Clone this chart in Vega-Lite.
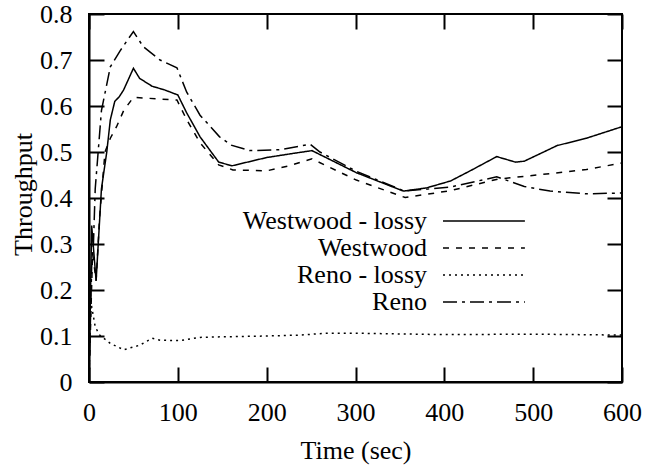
{
  "$schema": "https://vega.github.io/schema/vega-lite/v6.json",
  "width": 533,
  "height": 368,
  "autosize": "none",
  "padding": {"left": 89, "top": 14, "right": 23, "bottom": 85},
  "config": {
    "view": {"stroke": "black", "strokeWidth": 2},
    "axis": {
      "domain": true,
      "domainColor": "black",
      "domainWidth": 2,
      "ticks": false,
      "grid": true,
      "gridColor": "black",
      "gridWidth": 2,
      "labelFont": "Liberation Serif",
      "labelFontSize": 26,
      "labelColor": "black",
      "labelPadding": 17,
      "labelFlush": false,
      "titleFont": "Liberation Serif",
      "titleFontSize": 26,
      "titleFontWeight": "normal",
      "titleColor": "black"
    }
  },
  "data": {
    "values": [
      {"s": "Westwood - lossy", "t": 0, "v": 0},
      {"s": "Westwood - lossy", "t": 3, "v": 0.34},
      {"s": "Westwood - lossy", "t": 8, "v": 0.22},
      {"s": "Westwood - lossy", "t": 14, "v": 0.42},
      {"s": "Westwood - lossy", "t": 20, "v": 0.5},
      {"s": "Westwood - lossy", "t": 24, "v": 0.57},
      {"s": "Westwood - lossy", "t": 29, "v": 0.61},
      {"s": "Westwood - lossy", "t": 34, "v": 0.62},
      {"s": "Westwood - lossy", "t": 39, "v": 0.635},
      {"s": "Westwood - lossy", "t": 50, "v": 0.682},
      {"s": "Westwood - lossy", "t": 57, "v": 0.66},
      {"s": "Westwood - lossy", "t": 71, "v": 0.643},
      {"s": "Westwood - lossy", "t": 85, "v": 0.635},
      {"s": "Westwood - lossy", "t": 100, "v": 0.624},
      {"s": "Westwood - lossy", "t": 110, "v": 0.585},
      {"s": "Westwood - lossy", "t": 125, "v": 0.533},
      {"s": "Westwood - lossy", "t": 146, "v": 0.478},
      {"s": "Westwood - lossy", "t": 161, "v": 0.47},
      {"s": "Westwood - lossy", "t": 200, "v": 0.488},
      {"s": "Westwood - lossy", "t": 230, "v": 0.497},
      {"s": "Westwood - lossy", "t": 251, "v": 0.503},
      {"s": "Westwood - lossy", "t": 301, "v": 0.455},
      {"s": "Westwood - lossy", "t": 354, "v": 0.415},
      {"s": "Westwood - lossy", "t": 380, "v": 0.422},
      {"s": "Westwood - lossy", "t": 407, "v": 0.437},
      {"s": "Westwood - lossy", "t": 430, "v": 0.46},
      {"s": "Westwood - lossy", "t": 459, "v": 0.49},
      {"s": "Westwood - lossy", "t": 480, "v": 0.478},
      {"s": "Westwood - lossy", "t": 490, "v": 0.48},
      {"s": "Westwood - lossy", "t": 527, "v": 0.514},
      {"s": "Westwood - lossy", "t": 560, "v": 0.53},
      {"s": "Westwood - lossy", "t": 600, "v": 0.555},

      {"s": "Westwood", "t": 0, "v": 0},
      {"s": "Westwood", "t": 4, "v": 0.28},
      {"s": "Westwood", "t": 8, "v": 0.22},
      {"s": "Westwood", "t": 12, "v": 0.36},
      {"s": "Westwood", "t": 18, "v": 0.5},
      {"s": "Westwood", "t": 24, "v": 0.53},
      {"s": "Westwood", "t": 31, "v": 0.555},
      {"s": "Westwood", "t": 39, "v": 0.59},
      {"s": "Westwood", "t": 50, "v": 0.619},
      {"s": "Westwood", "t": 80, "v": 0.615},
      {"s": "Westwood", "t": 99, "v": 0.613},
      {"s": "Westwood", "t": 110, "v": 0.57},
      {"s": "Westwood", "t": 125, "v": 0.52},
      {"s": "Westwood", "t": 146, "v": 0.472},
      {"s": "Westwood", "t": 162, "v": 0.461},
      {"s": "Westwood", "t": 200, "v": 0.459},
      {"s": "Westwood", "t": 225, "v": 0.47},
      {"s": "Westwood", "t": 251, "v": 0.485},
      {"s": "Westwood", "t": 301, "v": 0.439},
      {"s": "Westwood", "t": 356, "v": 0.401},
      {"s": "Westwood", "t": 407, "v": 0.416},
      {"s": "Westwood", "t": 460, "v": 0.441},
      {"s": "Westwood", "t": 519, "v": 0.453},
      {"s": "Westwood", "t": 560, "v": 0.462},
      {"s": "Westwood", "t": 600, "v": 0.476},

      {"s": "Reno - lossy", "t": 0, "v": 0},
      {"s": "Reno - lossy", "t": 1, "v": 0.2},
      {"s": "Reno - lossy", "t": 3, "v": 0.164},
      {"s": "Reno - lossy", "t": 7, "v": 0.12},
      {"s": "Reno - lossy", "t": 12, "v": 0.102},
      {"s": "Reno - lossy", "t": 24, "v": 0.084},
      {"s": "Reno - lossy", "t": 39, "v": 0.07},
      {"s": "Reno - lossy", "t": 57, "v": 0.08},
      {"s": "Reno - lossy", "t": 71, "v": 0.095},
      {"s": "Reno - lossy", "t": 80, "v": 0.091},
      {"s": "Reno - lossy", "t": 102, "v": 0.09},
      {"s": "Reno - lossy", "t": 125, "v": 0.097},
      {"s": "Reno - lossy", "t": 144, "v": 0.098},
      {"s": "Reno - lossy", "t": 200, "v": 0.1},
      {"s": "Reno - lossy", "t": 238, "v": 0.102},
      {"s": "Reno - lossy", "t": 266, "v": 0.106},
      {"s": "Reno - lossy", "t": 300, "v": 0.106},
      {"s": "Reno - lossy", "t": 400, "v": 0.103},
      {"s": "Reno - lossy", "t": 500, "v": 0.104},
      {"s": "Reno - lossy", "t": 600, "v": 0.102},

      {"s": "Reno", "t": 0, "v": 0},
      {"s": "Reno", "t": 3, "v": 0.25},
      {"s": "Reno", "t": 5, "v": 0.3},
      {"s": "Reno", "t": 7, "v": 0.42},
      {"s": "Reno", "t": 14, "v": 0.59},
      {"s": "Reno", "t": 24, "v": 0.685},
      {"s": "Reno", "t": 35, "v": 0.72},
      {"s": "Reno", "t": 50, "v": 0.762},
      {"s": "Reno", "t": 61, "v": 0.729},
      {"s": "Reno", "t": 80, "v": 0.7},
      {"s": "Reno", "t": 99, "v": 0.683},
      {"s": "Reno", "t": 110, "v": 0.63},
      {"s": "Reno", "t": 125, "v": 0.58},
      {"s": "Reno", "t": 147, "v": 0.533},
      {"s": "Reno", "t": 160, "v": 0.515},
      {"s": "Reno", "t": 181, "v": 0.503},
      {"s": "Reno", "t": 215, "v": 0.505},
      {"s": "Reno", "t": 249, "v": 0.517},
      {"s": "Reno", "t": 260, "v": 0.5},
      {"s": "Reno", "t": 301, "v": 0.458},
      {"s": "Reno", "t": 355, "v": 0.415},
      {"s": "Reno", "t": 407, "v": 0.424},
      {"s": "Reno", "t": 459, "v": 0.446},
      {"s": "Reno", "t": 490, "v": 0.425},
      {"s": "Reno", "t": 519, "v": 0.415},
      {"s": "Reno", "t": 561, "v": 0.409},
      {"s": "Reno", "t": 600, "v": 0.411}
    ]
  },
  "mark": {"type": "line", "strokeWidth": 1.5, "color": "black"},
  "encoding": {
    "x": {
      "field": "t",
      "type": "quantitative",
      "scale": {"domain": [0, 600], "nice": false, "zero": false},
      "axis": {
        "orient": "bottom",
        "values": [0, 100, 200, 300, 400, 500, 600],
        "gridDash": [15, 338, 15, 400],
        "title": "Time (sec)",
        "titleX": 266.5,
        "titleY": 76,
        "titleBaseline": "alphabetic",
        "titleAlign": "center"
      }
    },
    "y": {
      "field": "v",
      "type": "quantitative",
      "scale": {"domain": [0, 0.8], "nice": false, "zero": false},
      "axis": {
        "orient": "left",
        "values": [0, 0.1, 0.2, 0.3, 0.4, 0.5, 0.6, 0.7, 0.8],
        "gridDash": [15, 503, 15, 600],
        "format": ".1~f",
        "title": "Throughput",
        "titleX": -58,
        "titleY": 180,
        "titleAngle": -90,
        "titleBaseline": "alphabetic",
        "titleAlign": "center"
      }
    },
    "strokeDash": {
      "field": "s",
      "type": "nominal",
      "scale": {
        "domain": ["Westwood - lossy", "Westwood", "Reno - lossy", "Reno"],
        "range": [[1, 0], [6, 7], [2, 4], [14, 5, 3, 5]]
      },
      "legend": {
        "title": null,
        "orient": "none",
        "legendX": 340,
        "legendY": 193,
        "symbolType": "M0,0H6.3",
        "symbolSize": 676,
        "symbolStrokeWidth": 1.5,
        "symbolStrokeColor": "black",
        "symbolFillColor": "transparent",
        "symbolOpacity": 1,
        "labelAlign": "right",
        "labelBaseline": "middle",
        "labelOffset": -30,
        "labelFont": "Liberation Serif",
        "labelFontSize": 26,
        "labelColor": "black",
        "labelLimit": 400,
        "rowPadding": 0,
        "padding": 0
      }
    }
  }
}
